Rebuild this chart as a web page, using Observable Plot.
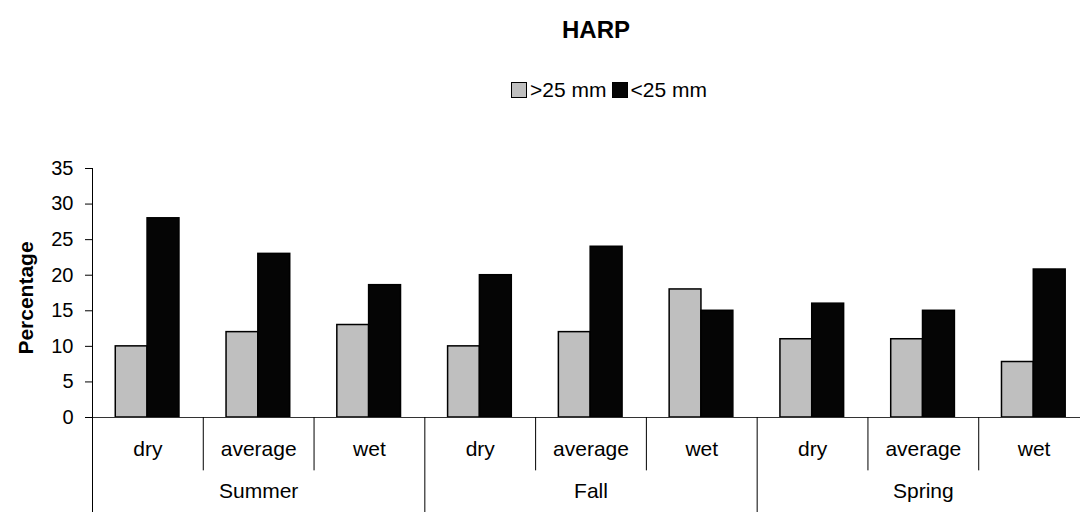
<!DOCTYPE html>
<html><head><meta charset="utf-8">
<script src="https://cdn.jsdelivr.net/npm/d3@7"></script>
<script src="https://cdn.jsdelivr.net/npm/@observablehq/plot@0.6"></script>
<style>
body{margin:0;background:#fff;font-family:Arial,"Liberation Sans",sans-serif;color:#000;}
#wrap{position:relative;width:1080px;height:512px;overflow:hidden;}
#head{position:relative;height:105px;}
#title{position:absolute;left:496px;width:200px;top:17px;text-align:center;font-weight:bold;font-size:24px;line-height:26px;}
#legend{position:absolute;right:373px;top:77px;display:flex;align-items:center;font-size:21px;line-height:26px;white-space:nowrap;}
.sw{display:inline-block;width:14px;height:14px;border:1px solid #000;margin-right:3px;}
.item{display:flex;align-items:center;margin-left:5px;}
</style></head>
<body>
<div id="wrap">
  <div id="head"><div id="title"></div><div id="legend"></div></div>
  <div id="chart"></div>
</div>
<script>
const title = "HARP";
const seasons = ["Summer", "Fall", "Spring"];
const conditions = ["dry", "average", "wet"];
const seriesNames = [">25 mm", "<25 mm"];
const seriesColors = ["#bfbfbf", "#050505"];
// values per category, in order Summer dry/average/wet, Fall ..., Spring ...
const above25 = [10, 12, 13, 10, 12, 18, 11, 11, 7.8];
const below25 = [28, 23, 18.6, 20, 24, 15, 16, 15, 20.8];
const yTicks = [0, 5, 10, 15, 20, 25, 30, 35];
const yLabel = "Percentage";

document.getElementById("title").textContent = title;
const leg = document.getElementById("legend");
seriesNames.forEach((s, k) => {
  const it = document.createElement("span");
  it.className = "item";
  const sw = document.createElement("span");
  sw.className = "sw";
  sw.style.background = seriesColors[k];
  it.appendChild(sw);
  it.appendChild(document.createTextNode(s));
  leg.appendChild(it);
});

const rows = [];
seasons.forEach((s, si) => conditions.forEach((c, ci) => {
  const i = si * conditions.length + ci;
  rows.push({i, season: s, si, cond: c, ci, above: above25[i], below: below25[i]});
}));
const seasonRows = seasons.map((s, si) => ({season: s, mid: si * conditions.length + conditions.length / 2}));

const chart = Plot.plot({
  width: 1080,
  height: 407,
  marginTop: 63,
  marginBottom: 95,
  marginLeft: 92,
  marginRight: 0,
  style: {fontFamily: "Arial, 'Liberation Sans', sans-serif", fontSize: "20px", color: "#000", background: "#fff"},
  x: {domain: [0, rows.length], range: [92, 1089], axis: null},
  y: {domain: [0, 35], ticks: yTicks, tickSize: 7, tickPadding: 12, label: null, grid: false},
  marks: [
    Plot.rectY(rows, {x1: d => d.i + 0.21, x2: d => d.i + 0.497, y1: 0, y2: "above", fill: seriesColors[0], stroke: "#000", strokeWidth: 1.5}),
    Plot.rectY(rows, {x1: d => d.i + 0.497, x2: d => d.i + 0.785, y1: 0, y2: "below", fill: seriesColors[1], stroke: "#000", strokeWidth: 1.5}),
    Plot.ruleY([0], {x1: 0, x2: rows.length, stroke: "#333", strokeWidth: 1}),
    Plot.ruleX(rows.filter(d => d.i > 0), {x: "i", y1: 0, y2: d => d.ci === 0 ? -13.6 : -7.5, stroke: "#000", strokeWidth: 1}),
    Plot.ruleX([0], {y1: 35, y2: -13.6, stroke: "#000", strokeWidth: 1}),
    Plot.text(rows, {x: d => d.i + 0.5, frameAnchor: "bottom", dy: 38, text: "cond", fontSize: 21}),
    Plot.text(seasonRows, {x: "mid", frameAnchor: "bottom", dy: 80, text: "season", fontSize: 21}),
    Plot.text([yLabel], {frameAnchor: "left", textAnchor: "middle", dx: -66, dy: 5, rotate: -90, text: d => d, fontWeight: "bold", fontSize: 21})
  ]
});
document.getElementById("chart").appendChild(chart);
</script>
</body></html>
